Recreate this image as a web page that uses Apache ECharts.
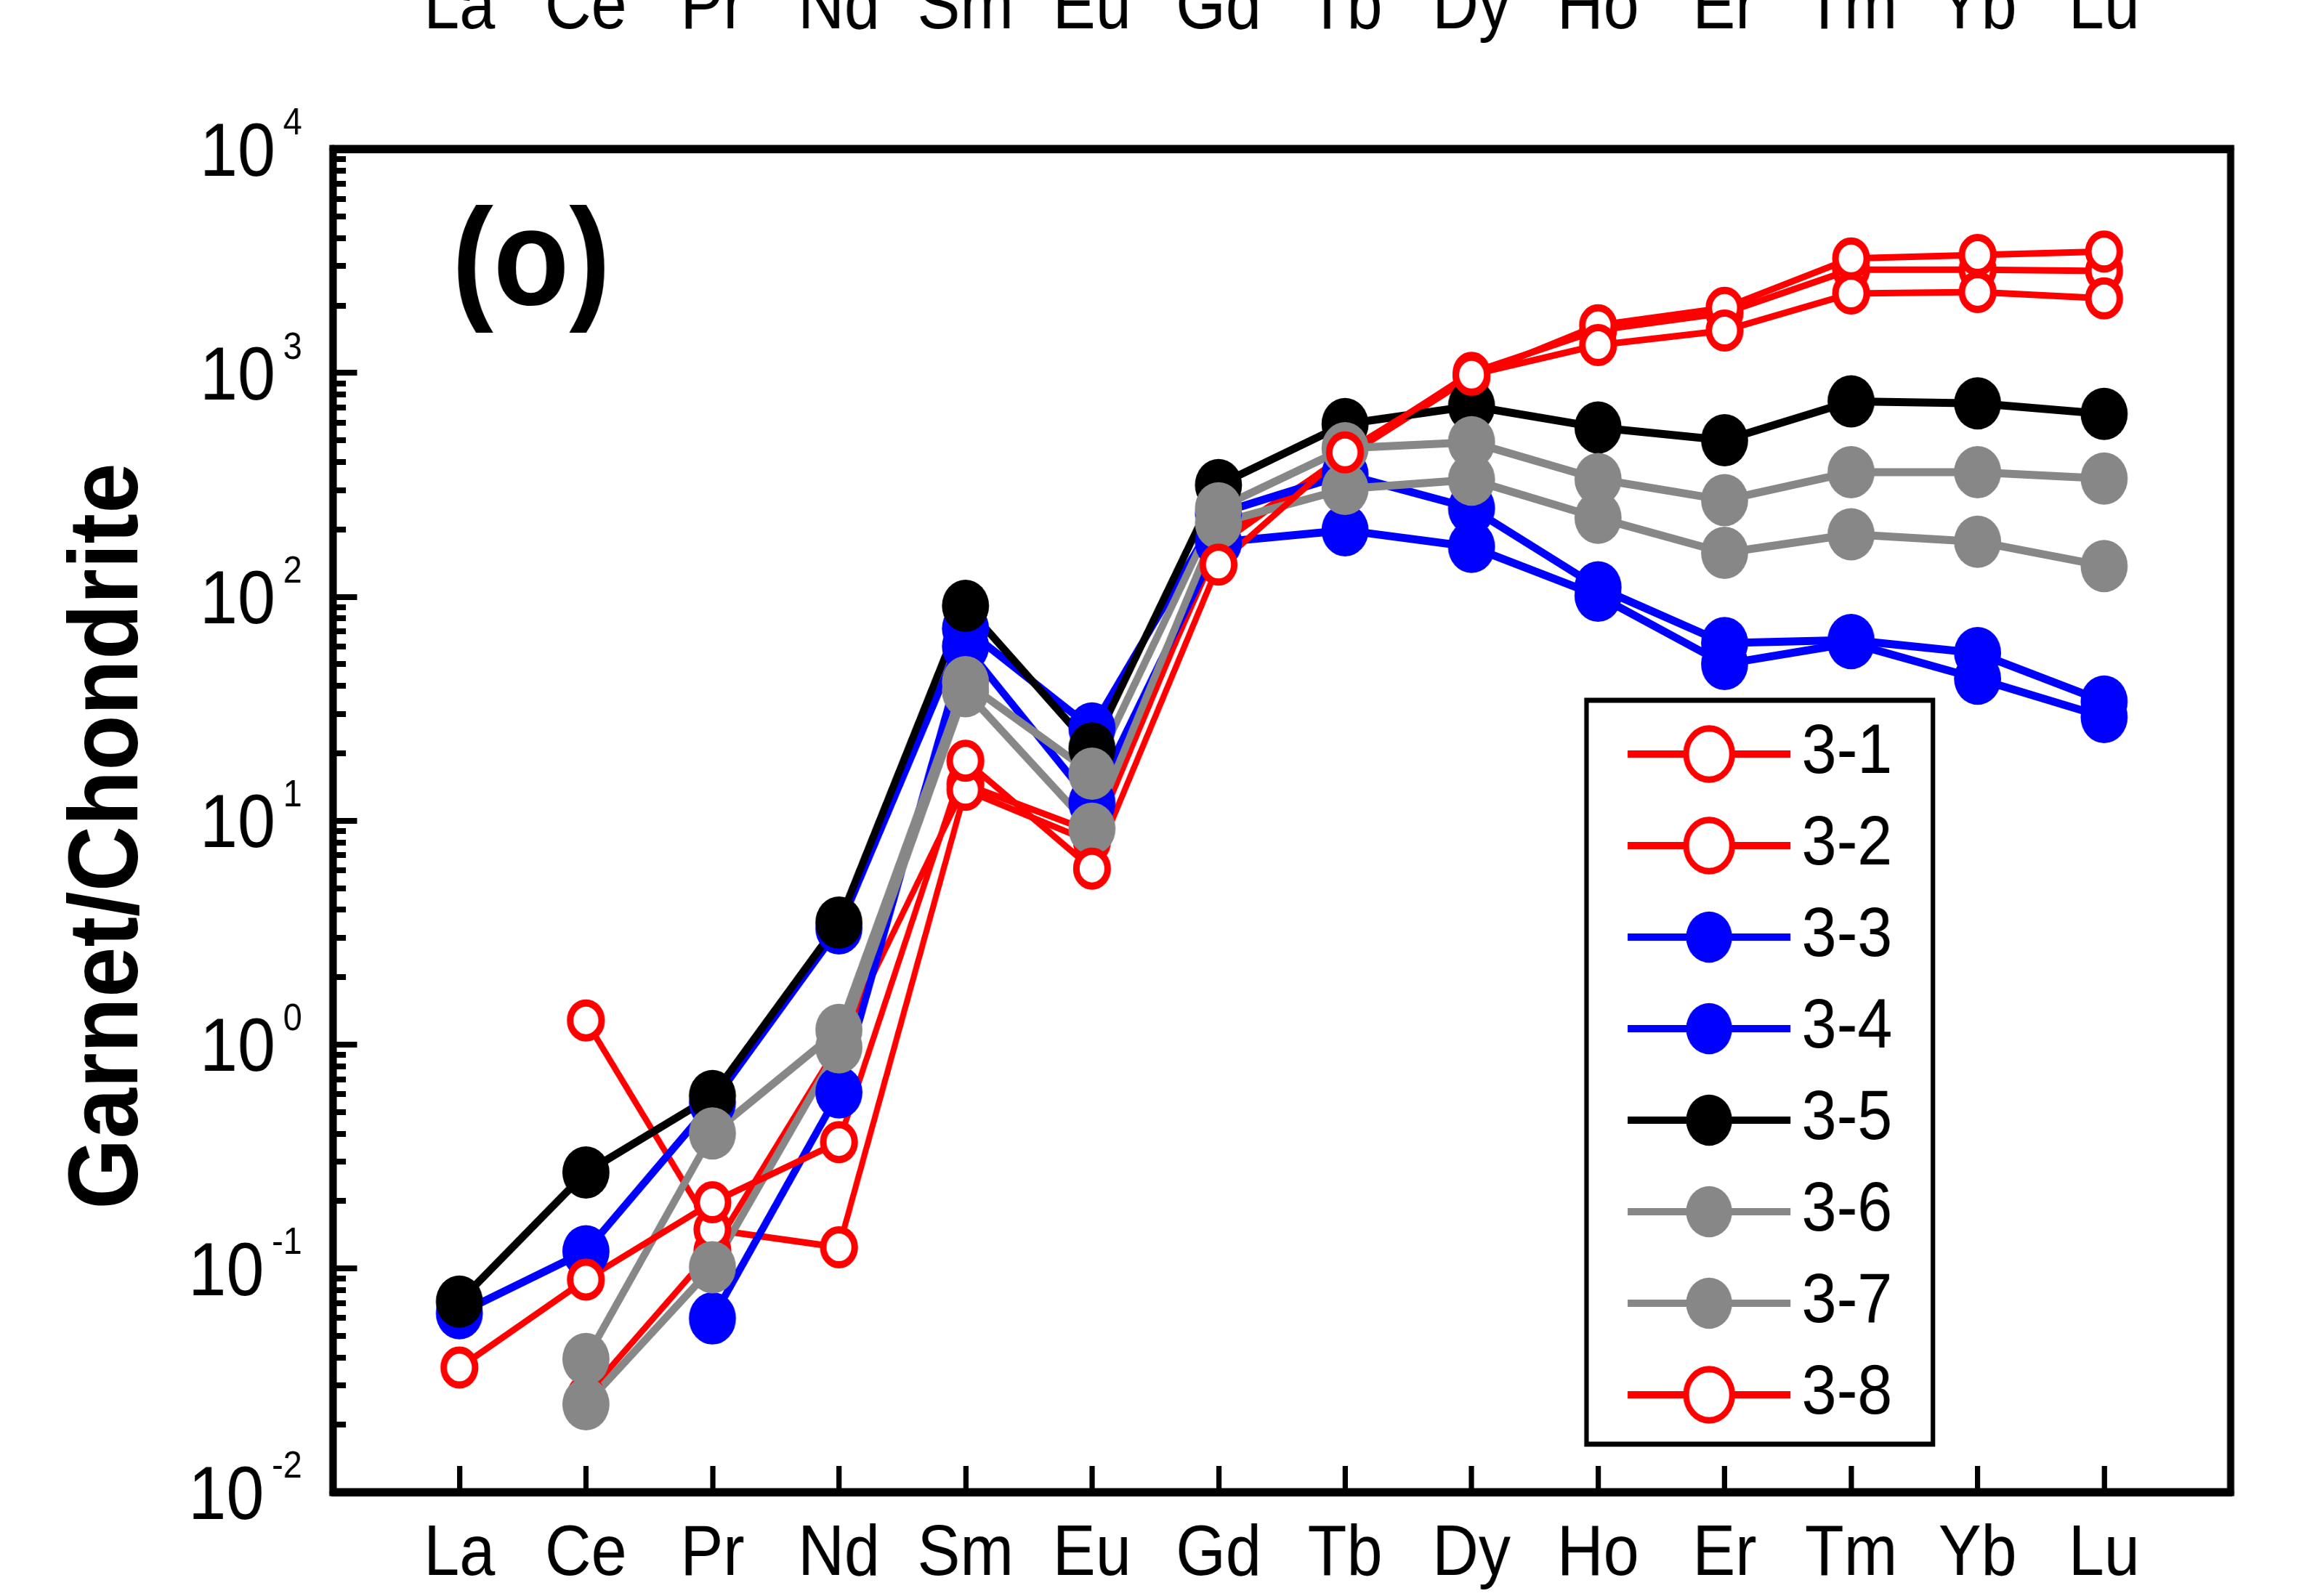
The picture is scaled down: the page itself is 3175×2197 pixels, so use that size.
<!DOCTYPE html>
<html>
<head>
<meta charset="utf-8">
<script src="https://cdn.jsdelivr.net/npm/echarts@6/dist/echarts.min.js"></script>
<style>
  html, body { margin: 0; padding: 0; background: #fff; overflow: hidden; width: 3175px; height: 2197px; }
  /* the figure is drawn slightly wide, then squeezed horizontally like the original plot export */
  #chart { width: 3528px; height: 2197px; transform: scaleX(0.9); transform-origin: 0 0; }
</style>
</head>
<body>
<div id="chart"></div>
<script>
// REE pattern of garnet normalised to chondrite
const ELEMENTS = ['La', 'Ce', 'Pr', 'Nd', 'Sm', 'Eu', 'Gd', 'Tb', 'Dy', 'Ho', 'Er', 'Tm', 'Yb', 'Lu'];

const S3_1 = [null, 0.027, 0.12, 1.0, 14.5, 8.9, 170, 430, 1000, 1550, 1850, 2890, 2890, 2850];
const S3_2 = [null, 1.28, 0.149, 0.124, 13.7, 8.0, 180, 420, 960, 1630, 1950, 3240, 3360, 3480];
const S3_3 = [0.063, 0.119, 0.55, 3.3, 72, 25.8, 235, 352, 248, 110, 62, 64, 56, 34];
const S3_4 = [null, null, 0.0597, 0.61, 60, 12.0, 175, 198, 167, 101, 50, 62, 43, 29];
const S3_5 = [0.071, 0.268, 0.588, 3.5, 91, 21, 315, 590, 710, 570, 500, 745, 730, 655];
const S3_6 = [null, 0.0393, 0.40, 1.16, 41.5, 16.2, 248, 460, 490, 335, 270, 360, 360, 337];
const S3_7 = [null, 0.0247, 0.101, 0.97, 37.8, 9.2, 213, 303, 333, 225, 157, 190, 176, 137];
const S3_8 = [0.036, 0.089, 0.197, 0.366, 18.5, 6.1, 139, 441, 980, 1330, 1545, 2260, 2296, 2148];

const Y_MAJOR_TICKS = [0.01, 0.1, 1, 10, 100, 1000, 10000];
const Y_MINOR_STEPS = [2, 3, 4, 5, 6, 7, 8, 9];
const Y_TITLE = 'Garnet/Chondrite';
const PANEL_TAG = '(o)';
const OPEN_NAMES = ['3-1', '3-2', '3-8'];
const LEGEND_NAMES = ['3-1', '3-2', '3-3', '3-4', '3-5', '3-6', '3-7', '3-8'];

const RED = '#ff0000', BLUE = '#0000ff', BLACK = '#000000', GRAY = '#878787';
const FONT = '"Liberation Sans", Arial, Helvetica, sans-serif';

const elementPositions = ELEMENTS.map((_, i) => i + 1);
const minorTicks = [];
Y_MAJOR_TICKS.slice(0, -1).forEach(d => Y_MINOR_STEPS.forEach(s => minorTicks.push(d * s)));

function pairs(vals) {
  return vals.map((v, i) => [i + 1, v]);
}

function openSeries(name, vals) {
  return {
    name, type: 'line', data: pairs(vals),
    symbol: 'circle', symbolSize: 48,
    lineStyle: { color: RED, width: 9 },
    itemStyle: { color: '#ffffff', borderColor: RED, borderWidth: 10 },
    emphasis: { disabled: true }
  };
}

function filledSeries(name, vals, color) {
  return {
    name, type: 'line', data: pairs(vals),
    symbol: 'circle', symbolSize: 72,
    lineStyle: { color, width: 11 },
    itemStyle: { color, borderWidth: 0 },
    emphasis: { disabled: true }
  };
}

const chart = echarts.init(document.getElementById('chart'), null, { renderer: 'canvas' });

chart.setOption({
  backgroundColor: '#ffffff',
  animation: false,
  grid: {
    left: 509, right: 117, top: 205, bottom: 143,
    outerBoundsMode: 'none',
    show: true, borderColor: '#000', borderWidth: 11, backgroundColor: 'transparent'
  },
  legend: {
    orient: 'vertical',
    left: 2426, top: 964,
    padding: [26, 62, 20, 58],
    itemWidth: 249, itemHeight: 88, itemGap: 30,
    borderColor: '#000', borderWidth: 7, backgroundColor: '#fff',
    lineStyle: { width: 10 },
    textStyle: { fontSize: 96, fontFamily: FONT, color: '#000', padding: [0, 0, 0, 12] },
    data: LEGEND_NAMES.map(n => OPEN_NAMES.includes(n)
      ? { name: n, itemStyle: { borderWidth: 9 } }
      : { name: n })
  },
  xAxis: [
    {
      type: 'value', min: 0, max: 15, position: 'bottom',
      axisLine: { show: true, lineStyle: { color: '#000', width: 11 } },
      axisTick: { show: true, inside: true, length: 36, customValues: elementPositions, lineStyle: { color: '#000', width: 8 } },
      axisLabel: {
        customValues: elementPositions, margin: 38,
        formatter: v => ELEMENTS[Math.round(v) - 1] || '',
        fontSize: 98, fontFamily: FONT, color: '#000'
      },
      splitLine: { show: false }
    },
    {
      // labels of the panel above, mostly cut off at the top edge
      type: 'value', min: 0, max: 15, position: 'top',
      axisLine: { show: true, lineStyle: { color: '#000', width: 11 } },
      axisTick: { show: false },
      axisLabel: {
        customValues: elementPositions, margin: 144,
        formatter: v => ELEMENTS[Math.round(v) - 1] || '',
        fontSize: 98, fontFamily: FONT, color: '#000'
      },
      splitLine: { show: false }
    }
  ],
  yAxis: [
    {
      type: 'log', logBase: 10, min: 0.01, max: 10000, position: 'left',
      axisLine: { show: true, lineStyle: { color: '#000', width: 11 } },
      axisTick: { show: true, inside: true, length: 37, customValues: Y_MAJOR_TICKS, lineStyle: { color: '#000', width: 8 } },
      axisLabel: {
        customValues: Y_MAJOR_TICKS, margin: 47,
        formatter: v => '{b|10}{s|' + Math.round(Math.log10(v)) + '}',
        rich: {
          b: { fontSize: 104, fontFamily: FONT, color: '#000', lineHeight: 120, verticalAlign: 'bottom' },
          s: { fontSize: 52, fontFamily: FONT, color: '#000', lineHeight: 52, verticalAlign: 'top', padding: [0, 0, 0, 12] }
        }
      },
      splitLine: { show: false },
      minorTick: { show: false }
    },
    {
      type: 'log', logBase: 10, min: 0.01, max: 10000, position: 'left',
      axisLine: { show: false },
      axisTick: { show: true, inside: true, length: 20, customValues: minorTicks, lineStyle: { color: '#000', width: 8 } },
      axisLabel: { show: false },
      splitLine: { show: false }
    }
  ],
  graphic: [
    {
      type: 'text', left: 691, top: 272, z: 10,
      style: { text: PANEL_TAG, fontSize: 190, fontWeight: 'bold', fontFamily: FONT, fill: '#000' }
    },
    {
      // y-axis title, condensed along its reading direction
      type: 'text', x: 169, y: 1151, rotation: Math.PI / 2, scaleX: 0.833, z: 10,
      style: { text: Y_TITLE, fontSize: 150, fontWeight: 'bold', fontFamily: FONT, fill: '#000', align: 'center', verticalAlign: 'middle' }
    }
  ],
  series: [
    openSeries('3-1', S3_1),
    openSeries('3-2', S3_2),
    filledSeries('3-3', S3_3, BLUE),
    filledSeries('3-4', S3_4, BLUE),
    filledSeries('3-5', S3_5, BLACK),
    filledSeries('3-6', S3_6, GRAY),
    filledSeries('3-7', S3_7, GRAY),
    openSeries('3-8', S3_8)
  ]
});
</script>
</body>
</html>
